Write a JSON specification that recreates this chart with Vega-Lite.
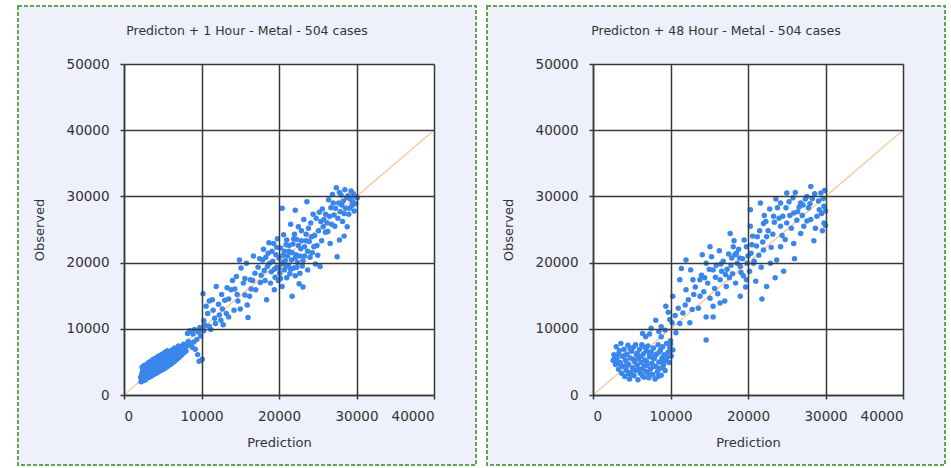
{
  "$schema": "https://vega.github.io/schema/vega-lite/v6.json",
  "background": "white",
  "padding": {"left": 17, "top": 5, "right": 4, "bottom": 2},
  "spacing": 9,
  "config": {
    "view": {"stroke": null},
    "font": "DejaVu Sans",
    "axis": {
      "gridColor": "#383838",
      "gridWidth": 1.5,
      "domainColor": "#383838",
      "domainWidth": 1.5,
      "tickColor": "#383838",
      "tickSize": 4,
      "tickWidth": 1.5,
      "labelFontSize": 13.5,
      "labelColor": "#333333",
      "titleFontSize": 13,
      "titleFontWeight": "normal",
      "titleColor": "#333333"
    },
    "axisX": {"labelPadding": 10, "titlePadding": 14},
    "axisY": {"labelPadding": 11, "titlePadding": 20},
    "title": {"font": "DejaVu Sans", "fontSize": 12.5, "fontWeight": "normal", "color": "#333333", "frame": "group", "anchor": "middle", "offset": 0}
  },
  "datasets": {
    "h1": [
      {"p":2200,"o":2000},{"p":2500,"o":2150},{"p":2800,"o":2300},{"p":2150,"o":2700},
      {"p":2300,"o":2600},{"p":2300,"o":3200},{"p":2400,"o":3700},{"p":2350,"o":4200},
      {"p":2600,"o":2500},{"p":2650,"o":2950},{"p":2600,"o":3400},{"p":2700,"o":3850},{"p":2600,"o":4450},
      {"p":2900,"o":2750},{"p":2950,"o":3150},{"p":2900,"o":3550},{"p":3000,"o":4050},{"p":2900,"o":4600},
      {"p":3200,"o":2650},{"p":3250,"o":3050},{"p":3200,"o":3450},{"p":3150,"o":3950},{"p":3250,"o":4350},{"p":3200,"o":4900},
      {"p":3500,"o":2850},{"p":3550,"o":3300},{"p":3500,"o":3750},{"p":3450,"o":4200},{"p":3550,"o":4700},{"p":3500,"o":5150},
      {"p":3800,"o":3050},{"p":3850,"o":3500},{"p":3800,"o":3950},{"p":3750,"o":4450},{"p":3850,"o":4900},{"p":3800,"o":5400},
      {"p":4100,"o":3250},{"p":4150,"o":3650},{"p":4100,"o":4100},{"p":4050,"o":4600},{"p":4150,"o":5100},{"p":4100,"o":5550},
      {"p":4400,"o":3450},{"p":4450,"o":3900},{"p":4400,"o":4350},{"p":4350,"o":4800},{"p":4450,"o":5300},{"p":4400,"o":5800},
      {"p":4700,"o":3650},{"p":4750,"o":4100},{"p":4700,"o":4550},{"p":4650,"o":5000},{"p":4750,"o":5500},{"p":4700,"o":6000},
      {"p":5000,"o":3850},{"p":5050,"o":4300},{"p":5000,"o":4800},{"p":4950,"o":5250},{"p":5050,"o":5700},{"p":5000,"o":6200},
      {"p":5300,"o":4050},{"p":5350,"o":4550},{"p":5300,"o":5000},{"p":5250,"o":5500},{"p":5350,"o":6000},{"p":5300,"o":6450},
      {"p":5600,"o":4300},{"p":5650,"o":4800},{"p":5600,"o":5250},{"p":5550,"o":5700},{"p":5650,"o":6200},{"p":5600,"o":6700},
      {"p":5900,"o":4550},{"p":5950,"o":5050},{"p":5900,"o":5500},{"p":5850,"o":6000},{"p":5950,"o":6550},
      {"p":6200,"o":4800},{"p":6250,"o":5300},{"p":6200,"o":5800},{"p":6150,"o":6300},{"p":6250,"o":6850},
      {"p":6500,"o":5050},{"p":6550,"o":5600},{"p":6500,"o":6100},{"p":6450,"o":6600},{"p":6550,"o":7100},
      {"p":6800,"o":5350},{"p":6850,"o":5900},{"p":6800,"o":6450},{"p":6750,"o":7000},
      {"p":7100,"o":5650},{"p":7150,"o":6200},{"p":7100,"o":6800},{"p":7050,"o":7400},
      {"p":7400,"o":6000},{"p":7450,"o":6650},{"p":7400,"o":7300},
      {"p":7700,"o":6350},{"p":7750,"o":7000},{"p":7700,"o":7650},
      {"p":8000,"o":6650},{"p":8050,"o":7350},
      {"p":8300,"o":8100},{"p":8600,"o":7600},{"p":8900,"o":9200},{"p":8500,"o":9700},{"p":9100,"o":9900},{"p":9400,"o":8400},
      {"p":9600,"o":9500},{"p":9800,"o":10200},{"p":9200,"o":6900},{"p":9500,"o":6100},{"p":9700,"o":5100},{"p":10100,"o":5400},
      {"p":8800,"o":7200},{"p":9000,"o":8000},{"p":9900,"o":8900},{"p":10300,"o":9700},{"p":8200,"o":9300},
      {"p":10300,"o":11200},{"p":10200,"o":15300},{"p":10600,"o":13400},{"p":11000,"o":14200},{"p":11400,"o":14400},{"p":11000,"o":10400},
      {"p":11800,"o":10800},{"p":11900,"o":16400},{"p":12300,"o":12100},{"p":12500,"o":11300},{"p":12800,"o":10600},{"p":12200,"o":13700},
      {"p":12600,"o":15200},{"p":13000,"o":14300},{"p":13200,"o":12300},{"p":13500,"o":11800},{"p":13300,"o":16200},{"p":10800,"o":12300},{"p":11500,"o":12800},
      {"p":13800,"o":15900},{"p":14000,"o":17300},{"p":14300,"o":16000},{"p":14500,"o":17900},{"p":14700,"o":14200},{"p":14900,"o":20400},
      {"p":15100,"o":19200},{"p":15400,"o":16900},{"p":15600,"o":15100},{"p":15800,"o":19900},{"p":15900,"o":13600},{"p":16200,"o":14900},
      {"p":16300,"o":17400},{"p":16600,"o":17300},{"p":16700,"o":21000},{"p":16900,"o":18400},{"p":17000,"o":15900},{"p":14200,"o":12800},
      {"p":15000,"o":13000},{"p":16000,"o":11700},
      {"p":17300,"o":19300},{"p":17500,"o":20600},{"p":17700,"o":18100},{"p":17900,"o":20400},{"p":18000,"o":22000},{"p":18200,"o":17300},
      {"p":18400,"o":14400},{"p":18500,"o":19400},{"p":18600,"o":21400},{"p":18700,"o":23000},{"p":18900,"o":16900},{"p":19000,"o":18600},
      {"p":19200,"o":20200},{"p":19300,"o":22900},{"p":19400,"o":15900},{"p":19500,"o":17800},{"p":19600,"o":21200},{"p":19700,"o":19300},
      {"p":19800,"o":23600},{"p":19900,"o":17300},{"p":20000,"o":20700},{"p":20100,"o":18400},{"p":20200,"o":22200},{"p":20300,"o":19800},
      {"p":20400,"o":16400},{"p":20500,"o":21100},{"p":20600,"o":24200},{"p":20700,"o":18900},{"p":20800,"o":20300},{"p":20900,"o":22700},
      {"p":21000,"o":17700},{"p":21000,"o":23400},{"p":21200,"o":19600},{"p":21300,"o":21700},{"p":21400,"o":18300},{"p":21500,"o":25800},
      {"p":21600,"o":20400},{"p":21700,"o":14900},{"p":21800,"o":22800},{"p":21900,"o":19200},{"p":22000,"o":24300},{"p":22100,"o":18000},
      {"p":22200,"o":21200},{"p":22300,"o":23500},{"p":22400,"o":20000},{"p":22500,"o":25400},{"p":22600,"o":16800},{"p":22700,"o":18400},
      {"p":22800,"o":22100},{"p":22900,"o":24800},{"p":23000,"o":19500},{"p":23100,"o":16300},{"p":23200,"o":26500},{"p":23300,"o":21000},
      {"p":23500,"o":23300},{"p":23600,"o":29200},{"p":23700,"o":18900},{"p":23800,"o":25200},{"p":24000,"o":20800},{"p":24200,"o":23900},
      {"p":24400,"o":27300},{"p":24500,"o":22400},{"p":24700,"o":19800},{"p":24900,"o":22600},{"p":25100,"o":24800},{"p":25300,"o":19400},
      {"p":25400,"o":26200},{"p":22100,"o":27900},{"p":20400,"o":28200},
      {"p":25600,"o":28100},{"p":25800,"o":26500},{"p":26000,"o":24600},{"p":26200,"o":26000},{"p":26400,"o":29500},{"p":26600,"o":22900},
      {"p":26700,"o":28300},{"p":26900,"o":30300},{"p":27100,"o":27200},{"p":27200,"o":25500},{"p":27400,"o":31300},{"p":27500,"o":20900},
      {"p":27700,"o":29000},{"p":27900,"o":27700},{"p":28000,"o":30200},{"p":28200,"o":26200},{"p":28300,"o":29300},{"p":28500,"o":31000},
      {"p":28600,"o":28200},{"p":28800,"o":25400},{"p":28900,"o":30100},{"p":29000,"o":27300},{"p":29200,"o":29600},{"p":29400,"o":28600},
      {"p":29600,"o":30400},{"p":29700,"o":27800},{"p":29900,"o":28900},{"p":30100,"o":29800},{"p":27800,"o":23400},{"p":28400,"o":24000},
      {"p":17600,"o":17000},{"p":18100,"o":18800},{"p":18300,"o":20800},{"p":18800,"o":19900},{"p":19100,"o":21700},{"p":19400,"o":19000},
      {"p":19700,"o":22300},{"p":20000,"o":19100},{"p":20200,"o":17600},{"p":20500,"o":20000},{"p":20700,"o":21700},{"p":20900,"o":19400},
      {"p":21100,"o":21000},{"p":21300,"o":22600},{"p":21500,"o":19000},{"p":21700,"o":21500},{"p":21900,"o":23600},{"p":22100,"o":20700},
      {"p":22300,"o":19300},{"p":22500,"o":22600},{"p":22700,"o":21000},{"p":22900,"o":23300},{"p":23100,"o":20300},{"p":23300,"o":22400},
      {"p":23500,"o":24300},{"p":23700,"o":21700},{"p":23900,"o":23200},{"p":24100,"o":26000},{"p":24300,"o":21500},{"p":24600,"o":24100},
      {"p":24800,"o":26700},{"p":25000,"o":21100},{"p":25200,"o":27600},{"p":25500,"o":23300},{"p":25700,"o":25400},{"p":26000,"o":27300},
      {"p":26300,"o":24700},{"p":26500,"o":27000},{"p":26800,"o":25800},{"p":27000,"o":29000},{"p":27300,"o":28200},{"p":27600,"o":26700},
      {"p":27800,"o":30600},{"p":28100,"o":28700},{"p":28400,"o":27400},{"p":28700,"o":29800},{"p":29100,"o":28200},{"p":29300,"o":30800},
      {"p":29500,"o":29200},{"p":29800,"o":30000},{"p":16400,"o":16000},{"p":15600,"o":17600},{"p":14600,"o":15200},{"p":13500,"o":14500},
      {"p":12700,"o":13000},{"p":11700,"o":11600},{"p":11200,"o":9900},{"p":10500,"o":10500}
    ],
    "h48": [
      {"p":2600,"o":5200},{"p":2700,"o":6100},{"p":2900,"o":4600},{"p":3000,"o":7300},{"p":3100,"o":5600},{"p":3300,"o":3900},
      {"p":3400,"o":6700},{"p":3500,"o":4900},{"p":3600,"o":7800},{"p":3700,"o":3300},{"p":3800,"o":5800},{"p":3900,"o":4300},
      {"p":4000,"o":6900},{"p":4100,"o":2800},{"p":4200,"o":5200},{"p":4300,"o":3700},{"p":4400,"o":6200},{"p":4500,"o":7500},
      {"p":4600,"o":4600},{"p":4700,"o":2400},{"p":4800,"o":5600},{"p":4900,"o":3400},{"p":5000,"o":6600},{"p":5100,"o":4100},
      {"p":5200,"o":7200},{"p":5300,"o":2900},{"p":5400,"o":5000},{"p":5500,"o":3700},{"p":5600,"o":6100},{"p":5700,"o":4500},
      {"p":5800,"o":2300},{"p":5900,"o":5500},{"p":6000,"o":6900},{"p":6100,"o":3300},{"p":6200,"o":4900},{"p":6300,"o":7600},
      {"p":6400,"o":4000},{"p":6500,"o":6200},{"p":6600,"o":2700},{"p":6700,"o":5300},{"p":6800,"o":3600},{"p":6900,"o":6700},
      {"p":7000,"o":4500},{"p":7100,"o":7400},{"p":7200,"o":2600},{"p":7300,"o":5800},{"p":7400,"o":3900},{"p":7500,"o":6500},
      {"p":7600,"o":4800},{"p":7700,"o":3100},{"p":7800,"o":7100},{"p":7900,"o":5500},{"p":8000,"o":2400},{"p":8100,"o":4300},
      {"p":8200,"o":6200},{"p":8300,"o":3500},{"p":8400,"o":7600},{"p":8500,"o":5000},{"p":8600,"o":4000},{"p":8700,"o":6800},
      {"p":8800,"o":3000},{"p":8900,"o":5600},{"p":9000,"o":7300},{"p":9100,"o":4600},{"p":9200,"o":6100},{"p":9300,"o":3700},
      {"p":9400,"o":5300},{"p":9500,"o":7800},{"p":9700,"o":6500},{"p":9800,"o":4900},{"p":9900,"o":7200},{"p":10100,"o":5900},
      {"p":10300,"o":6800},{"p":3200,"o":5000},{"p":4400,"o":4800},{"p":5700,"o":6300},{"p":6900,"o":5100},{"p":7600,"o":5700},{"p":8800,"o":5000},
      {"p":2800,"o":5700},{"p":3300,"o":6200},{"p":3600,"o":4500},{"p":4100,"o":6000},{"p":4300,"o":4300},{"p":4800,"o":7000},
      {"p":5000,"o":3000},{"p":5200,"o":5400},{"p":5500,"o":7600},{"p":5900,"o":3900},{"p":6200,"o":5800},{"p":6600,"o":4400},
      {"p":6700,"o":7200},{"p":7100,"o":3300},{"p":7300,"o":6300},{"p":7800,"o":4300},{"p":8000,"o":5900},{"p":8400,"o":2800},
      {"p":8600,"o":6500},{"p":9000,"o":4200},{"p":9600,"o":5700},{"p":10000,"o":7700},{"p":4600,"o":3200},{"p":6400,"o":2900},
      {"p":6400,"o":9300},{"p":6800,"o":8800},{"p":7500,"o":10100},{"p":8100,"o":11300},{"p":8800,"o":10300},{"p":9400,"o":13400},
      {"p":9900,"o":11400},{"p":10300,"o":14900},{"p":10700,"o":9400},{"p":11200,"o":10800},{"p":11600,"o":12400},{"p":12000,"o":15900},
      {"p":12500,"o":10900},{"p":12900,"o":17400},{"p":11200,"o":17400},{"p":12000,"o":20400},{"p":13800,"o":14900},{"p":14600,"o":8300},
      {"p":14600,"o":11800},{"p":15500,"o":11800},{"p":15500,"o":13400},{"p":16400,"o":13900},{"p":13800,"o":17400},{"p":14600,"o":19900},
      {"p":15100,"o":22400},{"p":15500,"o":18900},{"p":16400,"o":17400},{"p":17200,"o":16400},{"p":18100,"o":22400},{"p":17700,"o":24400},
      {"p":18500,"o":21400},{"p":19000,"o":19400},{"p":19000,"o":14900},{"p":19800,"o":17400},{"p":20700,"o":19900},{"p":19800,"o":22400},
      {"p":20300,"o":25500},{"p":20300,"o":28000},{"p":21600,"o":29000},{"p":22000,"o":25900},{"p":22400,"o":23900},{"p":22000,"o":21900},
      {"p":22400,"o":16400},{"p":22900,"o":19900},{"p":23700,"o":20400},{"p":24200,"o":22400},{"p":24200,"o":25500},{"p":23300,"o":27000},
      {"p":24200,"o":29000},{"p":25000,"o":30500},{"p":25900,"o":27500},{"p":26800,"o":29000},{"p":27600,"o":30000},{"p":28100,"o":26500},
      {"p":26800,"o":24400},{"p":25900,"o":22900},{"p":28100,"o":31500},{"p":29400,"o":30500},{"p":29800,"o":28500},{"p":29800,"o":26000},
      {"p":28900,"o":27000},{"p":27200,"o":25500},{"p":25000,"o":26000},
      {"p":13200,"o":16300},{"p":13600,"o":13100},{"p":14000,"o":18100},{"p":14300,"o":15600},{"p":14800,"o":16900},{"p":15100,"o":14600},
      {"p":15300,"o":20900},{"p":15700,"o":16100},{"p":15900,"o":19600},{"p":16100,"o":15300},{"p":16300,"o":21800},{"p":16600,"o":18700},
      {"p":16800,"o":20200},{"p":17000,"o":14200},{"p":17300,"o":19000},{"p":17500,"o":21300},{"p":17600,"o":17700},{"p":17900,"o":20700},
      {"p":18000,"o":18300},{"p":18200,"o":23300},{"p":18400,"o":16900},{"p":18600,"o":19900},{"p":18800,"o":22000},{"p":19100,"o":18500},
      {"p":19300,"o":20600},{"p":19500,"o":23400},{"p":19700,"o":16300},{"p":20000,"o":21000},{"p":20200,"o":18700},{"p":20500,"o":22700},
      {"p":20800,"o":20200},{"p":21000,"o":17200},{"p":21200,"o":23900},{"p":21400,"o":21100},{"p":21700,"o":19300},{"p":22100,"o":27100},
      {"p":22600,"o":24800},{"p":23000,"o":22300},{"p":23400,"o":26100},{"p":23800,"o":28300},{"p":24500,"o":27000},{"p":24800,"o":23500},
      {"p":25300,"o":29200},{"p":25600,"o":25200},{"p":26100,"o":30600},{"p":26300,"o":26400},{"p":26600,"o":28400},{"p":27000,"o":27100},
      {"p":27400,"o":29600},{"p":27800,"o":28300},{"p":28300,"o":29700},{"p":28700,"o":25200},{"p":29100,"o":29300},{"p":29500,"o":27400},
      {"p":29900,"o":30900},{"p":30000,"o":25600},{"p":29600,"o":24800},{"p":28500,"o":23300},{"p":26000,"o":20600},{"p":24600,"o":18700},
      {"p":23500,"o":17700},{"p":21800,"o":14500},{"p":10600,"o":12000},{"p":9300,"o":9800},{"p":11900,"o":13600},{"p":12800,"o":12900},
      {"p":10000,"o":8200},{"p":8800,"o":8800},{"p":7300,"o":9200},{"p":12600,"o":18900},{"p":14100,"o":21200},{"p":11400,"o":19100},
      {"p":14400,"o":17700},{"p":15000,"o":19000},{"p":15800,"o":17800},{"p":16500,"o":19800},{"p":17100,"o":18200},{"p":17800,"o":19600},
      {"p":18300,"o":21200},{"p":18900,"o":20700},{"p":19400,"o":18000},{"p":19900,"o":19900},{"p":20400,"o":21400},{"p":20600,"o":24000},
      {"p":21100,"o":22500},{"p":21500,"o":24800},{"p":21900,"o":23100},{"p":22300,"o":26200},{"p":22800,"o":28100},{"p":23200,"o":24300},
      {"p":23600,"o":29600},{"p":24000,"o":26700},{"p":24400,"o":24100},{"p":24900,"o":28300},{"p":25400,"o":27100},{"p":25800,"o":29800},
      {"p":26400,"o":27700},{"p":27100,"o":28700},{"p":27600,"o":26300},{"p":28000,"o":28900},{"p":28600,"o":30400},{"p":29200,"o":28000},
      {"p":29700,"o":29700},{"p":30000,"o":27800},{"p":12300,"o":14400},{"p":13000,"o":15200},{"p":11000,"o":13100},{"p":10200,"o":10900},
      {"p":9700,"o":12500},{"p":8500,"o":9600}
    ]
  },
  "hconcat": [
    {
      "width": 310,
      "height": 331,
      "title": {"text": "Predicton + 1 Hour - Metal - 504 cases", "dx": -32, "dy": 36},
      "layer": [
        {
          "data": {"values": [{}]},
          "mark": {"type": "rect", "fill": "#eef0fb", "stroke": "#5fa552", "strokeWidth": 2, "strokeDash": [4, 2], "clip": false},
          "encoding": {
            "x": {"datum": -13677, "type": "quantitative", "scale": {"domain": [0, 40000], "nice": false, "zero": false}},
            "x2": {"datum": 45419},
            "y": {"datum": -10574, "type": "quantitative", "scale": {"domain": [0, 50000], "nice": false, "zero": false}},
            "y2": {"datum": 58761}
          }
        },
        {
          "data": {"values": [{}]},
          "mark": {"type": "rect", "fill": "white"},
          "encoding": {
            "x": {"datum": 0, "type": "quantitative"},
            "x2": {"datum": 40000},
            "y": {"datum": 0, "type": "quantitative"},
            "y2": {"datum": 50000}
          }
        },
        {
          "data": {"values": [{}]},
          "mark": {"type": "rule", "color": "#f7cd9c", "strokeWidth": 1.5},
          "encoding": {
            "x": {"datum": 0, "type": "quantitative"},
            "x2": {"datum": 40000},
            "y": {"datum": 0, "type": "quantitative"},
            "y2": {"datum": 40000}
          }
        },
        {
          "data": {"name": "h1"},
          "mark": {"type": "circle", "size": 30, "color": "#3a86ec", "opacity": 1},
          "encoding": {
            "x": {"field": "p", "type": "quantitative",
                  "axis": {"title": "Prediction", "grid": true, "zindex": 1, "values": [0, 10000, 20000, 30000, 40000], "format": "d"}},
            "y": {"field": "o", "type": "quantitative",
                  "axis": {"title": "Observed", "grid": true, "zindex": 1, "values": [0, 10000, 20000, 30000, 40000, 50000], "format": "d"}}
          }
        }
      ]
    },
    {
      "width": 310,
      "height": 331,
      "title": {"text": "Predicton + 48 Hour - Metal - 504 cases", "dx": -32, "dy": 36},
      "layer": [
        {
          "data": {"values": [{}]},
          "mark": {"type": "rect", "fill": "#eef0fb", "stroke": "#5fa552", "strokeWidth": 2, "strokeDash": [4, 2], "clip": false},
          "encoding": {
            "x": {"datum": -13677, "type": "quantitative", "scale": {"domain": [0, 40000], "nice": false, "zero": false}},
            "x2": {"datum": 45419},
            "y": {"datum": -10574, "type": "quantitative", "scale": {"domain": [0, 50000], "nice": false, "zero": false}},
            "y2": {"datum": 58761}
          }
        },
        {
          "data": {"values": [{}]},
          "mark": {"type": "rect", "fill": "white"},
          "encoding": {
            "x": {"datum": 0, "type": "quantitative"},
            "x2": {"datum": 40000},
            "y": {"datum": 0, "type": "quantitative"},
            "y2": {"datum": 50000}
          }
        },
        {
          "data": {"values": [{}]},
          "mark": {"type": "rule", "color": "#f7cd9c", "strokeWidth": 1.5},
          "encoding": {
            "x": {"datum": 0, "type": "quantitative"},
            "x2": {"datum": 40000},
            "y": {"datum": 0, "type": "quantitative"},
            "y2": {"datum": 40000}
          }
        },
        {
          "data": {"name": "h48"},
          "mark": {"type": "circle", "size": 30, "color": "#3a86ec", "opacity": 1},
          "encoding": {
            "x": {"field": "p", "type": "quantitative",
                  "axis": {"title": "Prediction", "grid": true, "zindex": 1, "values": [0, 10000, 20000, 30000, 40000], "format": "d"}},
            "y": {"field": "o", "type": "quantitative",
                  "axis": {"title": "Observed", "grid": true, "zindex": 1, "values": [0, 10000, 20000, 30000, 40000, 50000], "format": "d"}}
          }
        }
      ]
    }
  ]
}
